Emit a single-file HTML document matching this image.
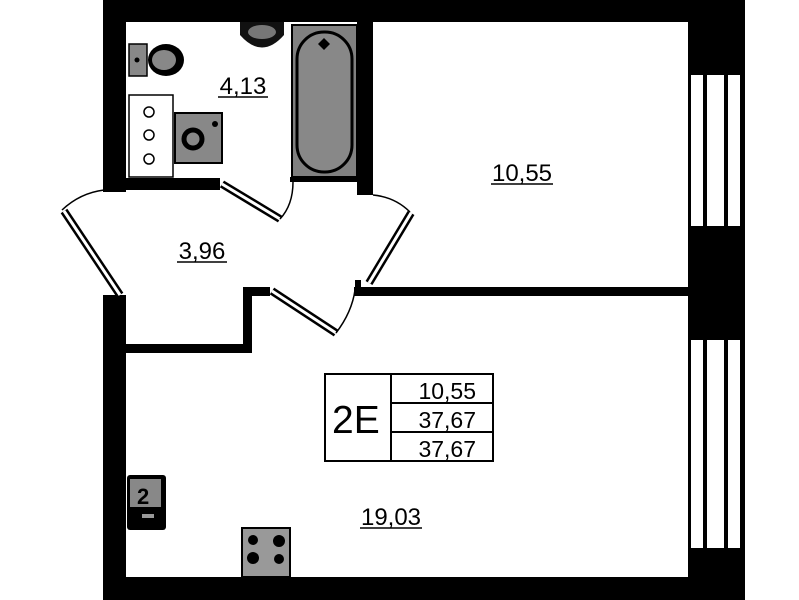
<!DOCTYPE html>
<html><head><meta charset="utf-8"><style>
html,body{margin:0;padding:0;background:#fff;}
svg{display:block;}
text{font-family:"Liberation Sans",sans-serif;fill:#000;}
</style></head><body>
<svg width="799" height="600" viewBox="0 0 799 600" xmlns="http://www.w3.org/2000/svg">
<rect width="799" height="600" fill="#fff"/>
<rect x="103" y="0" width="642" height="22" fill="#000"/>
<rect x="103" y="0" width="23" height="192" fill="#000"/>
<rect x="103" y="295" width="23" height="305" fill="#000"/>
<rect x="103" y="577" width="642" height="23" fill="#000"/>
<rect x="688" y="0" width="57" height="600" fill="#000"/>
<g fill="#fff">
<rect x="691" y="75" width="12" height="151"/><rect x="707" y="75" width="17" height="151"/><rect x="728" y="75" width="12" height="151"/>
<rect x="691" y="340" width="12" height="208"/><rect x="707" y="340" width="17" height="208"/><rect x="728" y="340" width="12" height="208"/>
</g>
<rect x="357" y="0" width="16" height="195" fill="#000"/>
<rect x="290" y="177" width="70" height="5" fill="#000"/>
<rect x="103" y="178" width="117" height="12" fill="#000"/>
<line x1="222" y1="184" x2="280" y2="219" stroke="#000" stroke-width="8"/>
<line x1="222" y1="184" x2="280" y2="219" stroke="#fff" stroke-width="3"/>
<path d="M280 219 Q293 205 293 182" fill="none" stroke="#000" stroke-width="1.5"/>
<path d="M104 190 Q80 193 62 210" fill="none" stroke="#000" stroke-width="1.5"/>
<line x1="64" y1="211" x2="120" y2="295" stroke="#000" stroke-width="8"/>
<line x1="64" y1="211" x2="120" y2="295" stroke="#fff" stroke-width="3"/>
<path d="M373 195 Q395 197 410 212" fill="none" stroke="#000" stroke-width="1.5"/>
<line x1="411" y1="213" x2="369" y2="283" stroke="#000" stroke-width="8"/>
<line x1="411" y1="213" x2="369" y2="283" stroke="#fff" stroke-width="3"/>
<rect x="126" y="344" width="126" height="9" fill="#000"/>
<rect x="243" y="287" width="9" height="66" fill="#000"/>
<rect x="243" y="287" width="27" height="9" fill="#000"/>
<line x1="272" y1="291" x2="336" y2="333" stroke="#000" stroke-width="8"/>
<line x1="272" y1="291" x2="336" y2="333" stroke="#fff" stroke-width="3"/>
<path d="M336 333 Q352 312 355 290" fill="none" stroke="#000" stroke-width="1.5"/>
<rect x="354" y="287" width="334" height="9" fill="#000"/>
<rect x="355" y="280" width="6" height="10" fill="#000"/>
<rect x="292" y="25" width="65" height="152" fill="#808080" stroke="#000" stroke-width="2"/>
<rect x="297" y="32" width="55" height="140" rx="27" fill="#888" stroke="#000" stroke-width="3"/>
<path d="M324 38 L330 44 L324 50 L318 44Z" fill="#000"/>
<path d="M240 22 L240 35 Q262 60 284 35 L284 22" fill="#111"/>
<ellipse cx="262" cy="32" rx="14" ry="7" fill="#777"/>
<rect x="129" y="44" width="18" height="32" fill="#888" stroke="#000" stroke-width="1.5"/>
<ellipse cx="166" cy="60" rx="18" ry="16" fill="#000"/>
<ellipse cx="164" cy="60" rx="12" ry="10" fill="#888"/>
<circle cx="137" cy="60" r="2.5" fill="#000"/>
<rect x="129" y="95" width="44" height="82" fill="#fff" stroke="#000" stroke-width="1.5"/>
<circle cx="149" cy="112" r="5" fill="#fff" stroke="#000" stroke-width="1.5"/>
<circle cx="149" cy="135" r="5" fill="#fff" stroke="#000" stroke-width="1.5"/>
<circle cx="149" cy="159" r="5" fill="#fff" stroke="#000" stroke-width="1.5"/>
<rect x="175" y="113" width="47" height="50" fill="#888" stroke="#000" stroke-width="2"/>
<circle cx="193" cy="139" r="9" fill="none" stroke="#000" stroke-width="5"/>
<circle cx="215" cy="124" r="3" fill="#000"/>
<rect x="127" y="475" width="39" height="55" rx="3" fill="#000"/>
<rect x="130" y="479" width="31" height="28" fill="#888"/>
<text x="137" y="504" font-size="22" font-weight="bold">2</text>
<rect x="142" y="514" width="12" height="4" fill="#999"/>
<rect x="242" y="528" width="48" height="49" fill="#999" stroke="#000" stroke-width="2"/>
<circle cx="253" cy="540" r="5" fill="#000"/><circle cx="279" cy="541" r="6" fill="#000"/>
<circle cx="253" cy="558" r="6" fill="#000"/><circle cx="279" cy="559" r="5" fill="#000"/>
<rect x="325" y="374" width="168" height="87" fill="#fff" stroke="#000" stroke-width="2"/>
<line x1="391" y1="374" x2="391" y2="461" stroke="#000" stroke-width="2"/>
<line x1="391" y1="403" x2="493" y2="403" stroke="#000" stroke-width="2"/>
<line x1="391" y1="432" x2="493" y2="432" stroke="#000" stroke-width="2"/>
<text x="332" y="433" font-size="39">2E</text>
<text x="476" y="399" font-size="23" text-anchor="end">10,55</text>
<text x="476" y="428" font-size="23" text-anchor="end">37,67</text>
<text x="476" y="457" font-size="23" text-anchor="end">37,67</text>
<g font-size="24">
<text x="243" y="94" text-anchor="middle">4,13</text>
<text x="202" y="259" text-anchor="middle">3,96</text>
<text x="522" y="181" text-anchor="middle">10,55</text>
<text x="391" y="525" text-anchor="middle">19,03</text>
</g>
<line x1="218" y1="97" x2="268" y2="97" stroke="#000" stroke-width="1.5"/>
<line x1="177" y1="262" x2="227" y2="262" stroke="#000" stroke-width="1.5"/>
<line x1="491" y1="184" x2="553" y2="184" stroke="#000" stroke-width="1.5"/>
<line x1="360" y1="528" x2="422" y2="528" stroke="#000" stroke-width="1.5"/>
</svg>
</body></html>
